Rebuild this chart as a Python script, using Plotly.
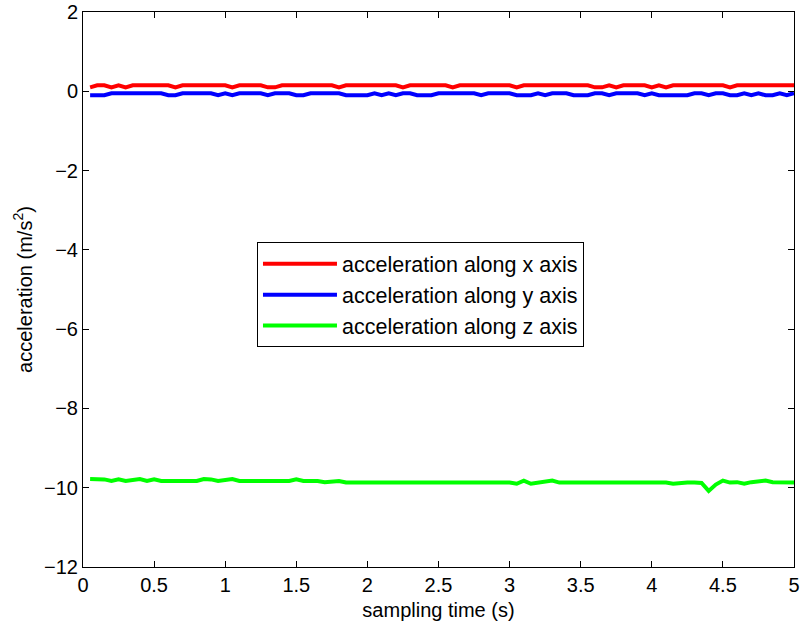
import plotly.graph_objects as go

# sampling time (s)
t = [0.05, 0.10, 0.15, 0.20, 0.25, 0.30, 0.35, 0.40, 0.45, 0.50,
     0.55, 0.60, 0.65, 0.70, 0.75, 0.80, 0.85, 0.90, 0.95, 1.00,
     1.05, 1.10, 1.15, 1.20, 1.25, 1.30, 1.35, 1.40, 1.45, 1.50,
     1.55, 1.60, 1.65, 1.70, 1.75, 1.80, 1.85, 1.90, 1.95, 2.00,
     2.05, 2.10, 2.15, 2.20, 2.25, 2.30, 2.35, 2.40, 2.45, 2.50,
     2.55, 2.60, 2.65, 2.70, 2.75, 2.80, 2.85, 2.90, 2.95, 3.00,
     3.05, 3.10, 3.15, 3.20, 3.25, 3.30, 3.35, 3.40, 3.45, 3.50,
     3.55, 3.60, 3.65, 3.70, 3.75, 3.80, 3.85, 3.90, 3.95, 4.00,
     4.05, 4.10, 4.15, 4.20, 4.25, 4.30, 4.35, 4.40, 4.45, 4.50,
     4.55, 4.60, 4.65, 4.70, 4.75, 4.80, 4.85, 4.90, 4.95, 5.00]

acc_x = [0.10, 0.15, 0.15, 0.10, 0.15, 0.10, 0.15, 0.15, 0.15, 0.15,
         0.15, 0.15, 0.10, 0.15, 0.15, 0.15, 0.15, 0.15, 0.15, 0.15,
         0.10, 0.15, 0.15, 0.15, 0.15, 0.10, 0.10, 0.15, 0.15, 0.15,
         0.15, 0.15, 0.15, 0.15, 0.15, 0.10, 0.15, 0.15, 0.15, 0.15,
         0.15, 0.15, 0.15, 0.15, 0.10, 0.15, 0.15, 0.15, 0.15, 0.15,
         0.15, 0.10, 0.15, 0.15, 0.15, 0.15, 0.15, 0.15, 0.15, 0.15,
         0.10, 0.15, 0.15, 0.15, 0.15, 0.15, 0.15, 0.15, 0.15, 0.15,
         0.15, 0.10, 0.10, 0.15, 0.10, 0.15, 0.15, 0.15, 0.15, 0.10,
         0.15, 0.10, 0.15, 0.15, 0.15, 0.15, 0.15, 0.15, 0.15, 0.15,
         0.10, 0.15, 0.15, 0.15, 0.15, 0.15, 0.15, 0.15, 0.15, 0.15]

acc_y = [-0.10, -0.10, -0.10, -0.05, -0.05, -0.05, -0.05, -0.05, -0.05, -0.05,
         -0.05, -0.10, -0.10, -0.05, -0.05, -0.05, -0.05, -0.05, -0.10, -0.05,
         -0.10, -0.05, -0.05, -0.05, -0.05, -0.10, -0.05, -0.05, -0.05, -0.10,
         -0.10, -0.05, -0.05, -0.05, -0.05, -0.05, -0.10, -0.10, -0.10, -0.10,
         -0.05, -0.10, -0.05, -0.10, -0.05, -0.05, -0.10, -0.10, -0.10, -0.05,
         -0.05, -0.05, -0.05, -0.05, -0.05, -0.10, -0.05, -0.05, -0.05, -0.05,
         -0.10, -0.10, -0.10, -0.05, -0.10, -0.05, -0.05, -0.05, -0.10, -0.10,
         -0.10, -0.05, -0.05, -0.10, -0.05, -0.05, -0.05, -0.05, -0.10, -0.05,
         -0.10, -0.10, -0.10, -0.10, -0.10, -0.05, -0.05, -0.10, -0.05, -0.05,
         -0.10, -0.10, -0.05, -0.10, -0.05, -0.10, -0.10, -0.05, -0.10, -0.05]

acc_z = [-9.78, -9.78, -9.79, -9.83, -9.79, -9.83, -9.81, -9.78, -9.83, -9.79,
         -9.83, -9.83, -9.83, -9.83, -9.83, -9.83, -9.78, -9.79, -9.83, -9.80,
         -9.78, -9.83, -9.83, -9.83, -9.83, -9.83, -9.83, -9.83, -9.83, -9.79,
         -9.83, -9.83, -9.83, -9.86, -9.84, -9.83, -9.87, -9.87, -9.85, -9.87,
         -9.87, -9.87, -9.87, -9.87, -9.87, -9.87, -9.87, -9.87, -9.87, -9.87,
         -9.87, -9.87, -9.87, -9.87, -9.87, -9.87, -9.87, -9.87, -9.87, -9.87,
         -9.90, -9.82, -9.90, -9.87, -9.85, -9.82, -9.87, -9.87, -9.87, -9.87,
         -9.87, -9.87, -9.87, -9.87, -9.87, -9.87, -9.87, -9.87, -9.87, -9.87,
         -9.87, -9.87, -9.90, -9.88, -9.87, -9.87, -9.88, -10.08, -9.92, -9.82,
         -9.87, -9.86, -9.90, -9.86, -9.85, -9.82, -9.86, -9.87, -9.87, -9.87]

names = ["acceleration along x axis", "acceleration along y axis", "acceleration along z axis"]
colors = ["#ff0000", "#0000ff", "#00ff00"]

x_ticks = [0, 0.5, 1, 1.5, 2, 2.5, 3, 3.5, 4, 4.5, 5]
x_ticktext = ["0", "0.5", "1", "1.5", "2", "2.5", "3", "3.5", "4", "4.5", "5"]
y_ticks = [-12, -10, -8, -6, -4, -2, 0, 2]

FONT = "Liberation Sans, Arial, Helvetica, sans-serif"

fig = go.Figure()
for ys, nm, c in zip([acc_x, acc_y, acc_z], names, colors):
    fig.add_trace(go.Scatter(x=t, y=ys, mode="lines", name=nm,
                             line=dict(color=c, width=4)))

axis_common = dict(showgrid=False, zeroline=False, showline=True, linecolor="black",
                   linewidth=1, mirror="ticks", ticks="inside", ticklen=6,
                   tickwidth=1, tickcolor="black", ticklabeloverflow="allow",
                   automargin=False,
                   tickfont=dict(family=FONT, size=20, color="black"))

fig.update_layout(
    width=801, height=630,
    margin=dict(l=83, r=7, t=12, b=63),
    paper_bgcolor="white", plot_bgcolor="white",
    font=dict(family=FONT, size=20, color="black"),
    showlegend=True,
    legend=dict(x=0.2447, y=0.5852, xanchor="left", yanchor="top",
                bgcolor="white", bordercolor="black", borderwidth=1,
                font=dict(family=FONT, size=21.5, color="black"),
                itemwidth=74),
    xaxis=dict(range=[0, 5], tickvals=x_ticks, ticktext=x_ticktext,
               title=dict(text="sampling time (s)", standoff=7,
                          font=dict(family=FONT, size=20)),
               **axis_common),
    yaxis=dict(range=[-12, 2], tickvals=y_ticks,
               title=dict(text="acceleration (m/s<sup>2</sup>)", standoff=6,
                          font=dict(family=FONT, size=20)),
               **axis_common),
)

fig.write_html("out.html")
